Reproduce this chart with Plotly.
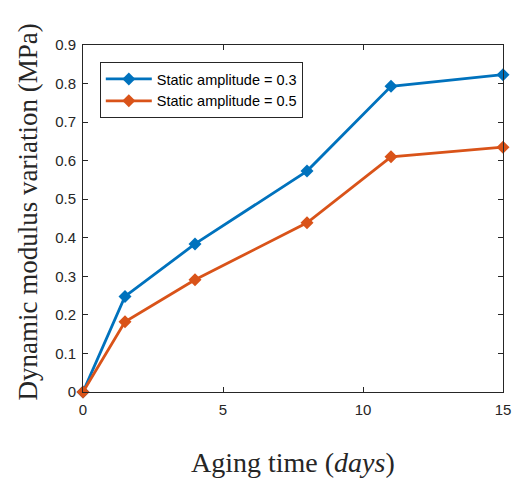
import plotly.graph_objects as go

# Aging time (days) and measured modulus change (MPa)
aging_days = [0, 1.5, 4, 8, 11, 15]
variation_amp_03 = [0, 0.248, 0.384, 0.573, 0.793, 0.823]
variation_amp_05 = [0, 0.182, 0.291, 0.439, 0.610, 0.635]
series_names = ["Static amplitude = 0.3", "Static amplitude = 0.5"]
series_colors = ["#0072BD", "#D95319"]

x_ticks = [0, 5, 10, 15]
y_ticks = [0, 0.1, 0.2, 0.3, 0.4, 0.5, 0.6, 0.7, 0.8, 0.9]

fig = go.Figure()
for name, vals, col in zip(series_names, [variation_amp_03, variation_amp_05], series_colors):
    fig.add_trace(go.Scatter(
        x=aging_days, y=vals, name=name, mode="lines+markers",
        line=dict(color=col, width=2.8),
        marker=dict(symbol="diamond", size=10, color=col),
        cliponaxis=False,
    ))

axis_common = dict(
    showgrid=False, zeroline=False, showline=True, linecolor="#262626", linewidth=1,
    mirror="ticks", ticks="inside", ticklen=5, tickcolor="#262626",
    tickfont=dict(family="Liberation Sans, Arial", size=15, color="#262626"),
)

fig.update_layout(
    width=521, height=483,
    margin=dict(l=83, r=10, t=45, b=91),
    paper_bgcolor="white", plot_bgcolor="white",
    xaxis=dict(range=[0, 15], tickvals=x_ticks, ticklabelstandoff=4, **axis_common),
    yaxis=dict(range=[0, 0.9], tickvals=y_ticks, ticklabelstandoff=3, **axis_common),
    legend=dict(
        x=0.04, y=0.951, xanchor="left", yanchor="top",
        bgcolor="white", bordercolor="#262626", borderwidth=1,
        font=dict(family="Liberation Sans, Arial", size=14.5, color="black"),
        tracegroupgap=0, itemwidth=46,
    ),
    annotations=[
        dict(text="Aging time (<i>days</i>)", xref="paper", yref="paper",
             x=0.5, y=-0.202, xanchor="center", yanchor="middle", showarrow=False,
             font=dict(family="Liberation Serif, Times New Roman", size=28, color="#262626")),
        dict(text="Dynamic modulus variation (MPa)", xref="paper", yref="paper",
             x=-0.131, y=0.52, xanchor="center", yanchor="middle", showarrow=False,
             textangle=-90,
             font=dict(family="Liberation Serif, Times New Roman", size=27, color="#262626")),
    ],
)

fig.write_html("out.html")
